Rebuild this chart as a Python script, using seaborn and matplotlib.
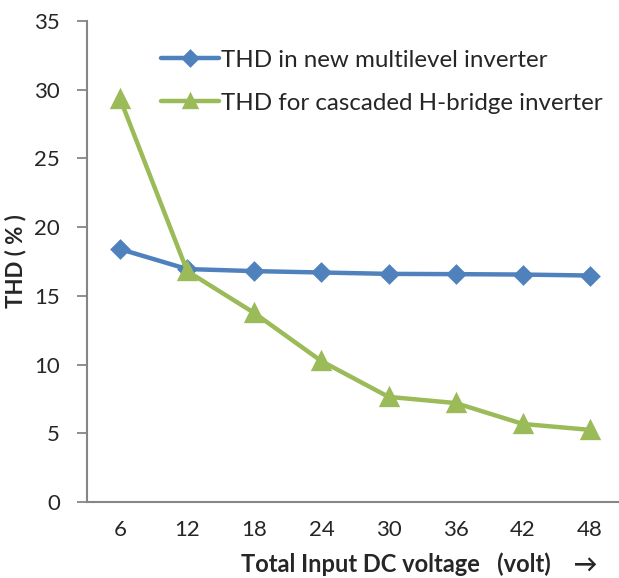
import pandas as pd
import seaborn as sns
import matplotlib.pyplot as plt

# === DATOS ===
voltaje = ["6", "12", "18", "24", "30", "36", "42", "48"]
thd_nuevo = [18.4, 16.95, 16.8, 16.7, 16.6, 16.58, 16.55, 16.48]
thd_cascada = [29.35, 16.8, 13.75, 10.25, 7.65, 7.2, 5.68, 5.25]
serie_nuevo = "THD in new multilevel inverter"
serie_cascada = "THD for cascaded H-bridge inverter"
y_ticks = [0, 5, 10, 15, 20, 25, 30, 35]

AZUL = "#4F81BD"
VERDE = "#9BBB59"
GRIS = "#868686"

df = pd.DataFrame({
    "voltaje": voltaje * 2,
    "thd": thd_nuevo + thd_cascada,
    "serie": [serie_nuevo] * len(voltaje) + [serie_cascada] * len(voltaje),
})

# === ESTILO ===
sns.set_style("white")
plt.rcParams["font.family"] = ["Lato", "DejaVu Sans"]

fig = plt.figure(figsize=(6.19, 5.78), dpi=100)
ax = fig.add_axes([86.5 / 619, 1 - 502 / 578, 537 / 619, 481 / 578])

sns.pointplot(
    data=df, x="voltaje", y="thd", hue="serie",
    palette=[AZUL, VERDE], markers=["D", "^"], linestyles=["-", "-"],
    linewidth=3.2, markersize=8, ax=ax, errorbar=None,
)
# triángulos un poco más grandes
for ln in ax.lines:
    if ln.get_marker() == "^":
        ln.set_markersize(11)

ax.set_xlim(-0.5, 7.5)
ax.set_ylim(0, 35)
ax.set_yticks(y_ticks)
ax.set_yticklabels([str(t) for t in y_ticks], fontsize=16)
ax.tick_params(axis="x", length=0, labelsize=16, pad=13)
ax.tick_params(axis="y", length=7, width=1.3, color=GRIS, direction="out", pad=12, left=True)

for lado in ["top", "right"]:
    ax.spines[lado].set_visible(False)
for lado in ["left", "bottom"]:
    ax.spines[lado].set_color(GRIS)
    ax.spines[lado].set_linewidth(1.5)

ax.set_ylabel("THD ( % )", fontsize=16, fontweight="bold", labelpad=6)
ax.set_xlabel("Total Input DC voltage   (volt)    \u2192", fontsize=17, fontweight="bold")
ax.xaxis.set_label_coords(0.62, -0.105)

leg = ax.legend(
    loc="upper left", bbox_to_anchor=(0.12, 0.96), frameon=False,
    fontsize=17.4, handlelength=2.4, handletextpad=0.1, labelspacing=0.9,
    borderaxespad=0, markerscale=0.85,
)

fig.savefig("out.png", dpi=100)
